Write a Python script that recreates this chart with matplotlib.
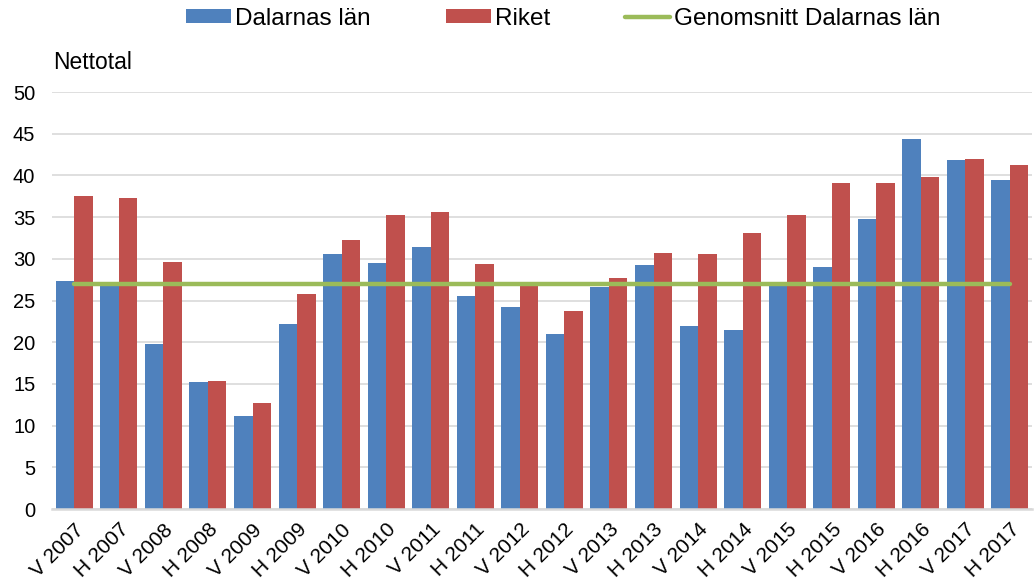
import numpy as np
import matplotlib
matplotlib.use('Agg')
import matplotlib.pyplot as plt

plt.rcParams['font.family'] = ['Liberation Sans', 'DejaVu Sans']

# data
categories = ['V 2007', 'H 2007', 'V 2008', 'H 2008', 'V 2009', 'H 2009',
              'V 2010', 'H 2010', 'V 2011', 'H 2011', 'V 2012', 'H 2012',
              'V 2013', 'H 2013', 'V 2014', 'H 2014', 'V 2015', 'H 2015',
              'V 2016', 'H 2016', 'V 2017', 'H 2017']
dalarna = [27.3, 26.9, 19.8, 15.2, 11.1, 22.2, 30.6, 29.5, 31.4, 25.6, 24.2,
           21.0, 26.6, 29.2, 21.9, 21.5, 26.9, 29.0, 34.8, 44.4, 41.9, 39.4]
riket = [37.5, 37.3, 29.6, 15.3, 12.7, 25.8, 32.3, 35.2, 35.6, 29.4, 26.8,
         23.8, 27.7, 30.7, 30.6, 33.1, 35.2, 39.1, 39.1, 39.8, 42.0, 41.3]
snitt_dalarna = 27.0

blue = '#4F81BD'
red = '#C0504D'
green = '#9BBB59'
grid = '#D9D9D9'

fig = plt.figure(figsize=(10.34, 5.82), dpi=100)
ax = fig.add_axes([0.0503, 0.1254, 0.948, 0.7165])

x = np.arange(len(categories))
w = 0.415
b1 = ax.bar(x - w / 2, dalarna, w, color=blue, label='Dalarnas län', zorder=2)
b2 = ax.bar(x + w / 2, riket, w, color=red, label='Riket', zorder=2)
ln, = ax.plot([x[0], x[-1]], [snitt_dalarna, snitt_dalarna], color=green, lw=3.2,
              solid_capstyle='round', label='Genomsnitt Dalarnas län', zorder=3)

ax.set_xlim(-0.5, len(categories) - 0.5)
ax.set_ylim(0, 50)
ax.set_yticks(range(0, 51, 5))
ax.yaxis.grid(True, color=grid, lw=1.2, zorder=0)
ax.set_axisbelow(True)
for s in ['top', 'right', 'left']:
    ax.spines[s].set_visible(False)
ax.spines['bottom'].set_color(grid)
ax.spines['bottom'].set_linewidth(1.8)
ax.spines['bottom'].set_zorder(4)

ax.set_xticks(x)
ax.set_xticklabels(categories, rotation=45, ha='right', rotation_mode='anchor',
                   fontsize=15)
ax.tick_params(axis='x', length=0, pad=8)
ax.tick_params(axis='y', length=0, pad=12, labelsize=14.5)

fig.text(0.051, 0.892, 'Nettotal', fontsize=16.5, va='center', ha='left')

fig.legend([b1, b2, ln], ['Dalarnas län', 'Riket', 'Genomsnitt Dalarnas län'],
           loc='center', bbox_to_anchor=(0.545, 0.968), ncol=3, frameon=False,
           fontsize=17.5, handlelength=1.85, handleheight=0.55,
           handletextpad=0.16, columnspacing=3.1)

fig.savefig('out.png', dpi=100)
